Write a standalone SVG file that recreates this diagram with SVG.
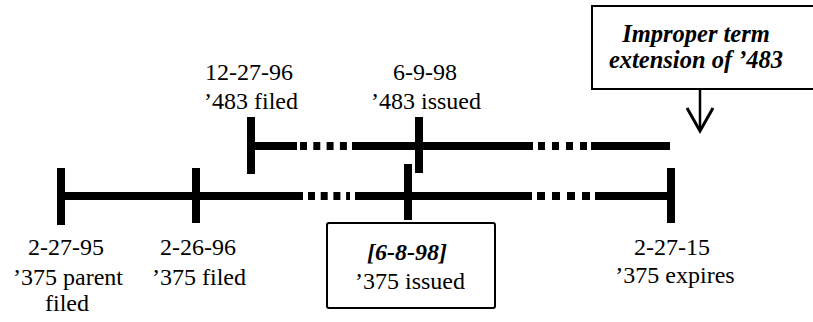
<svg xmlns="http://www.w3.org/2000/svg" width="813" height="322" viewBox="0 0 813 322">
<style>
.bar{stroke:#000;stroke-width:8;fill:none}
.dash{stroke:#000;stroke-width:8;fill:none;stroke-dasharray:7 6.3}
.tick{stroke:#000;stroke-width:8}
.box{fill:#fff;stroke:#000;stroke-width:2}
text{font-family:"Liberation Serif","Times New Roman",serif;font-size:24px;fill:#000;text-anchor:middle}
.bi{font-weight:bold;font-style:italic}
</style>
<g id="connectors">
  <line class="bar" x1="251" y1="146" x2="297" y2="146"/>
  <line class="dash" x1="300" y1="146" x2="347" y2="146"/>
  <line class="bar" x1="352" y1="146" x2="533" y2="146"/>
  <line class="dash" x1="538" y1="146" x2="587" y2="146" style="stroke-dasharray:7 7"/>
  <line class="bar" x1="591" y1="146" x2="670" y2="146"/>
  <line class="tick" x1="251" y1="117" x2="251" y2="174"/>
  <line class="tick" x1="419" y1="117" x2="419" y2="173"/>
  <line class="bar" x1="61" y1="196" x2="303" y2="196"/>
  <line class="dash" x1="308" y1="196" x2="350" y2="196" style="stroke-dasharray:7 5.7"/>
  <line class="bar" x1="355" y1="196" x2="532" y2="196"/>
  <line class="dash" x1="537" y1="196" x2="590" y2="196" style="stroke-dasharray:8 7"/>
  <line class="bar" x1="595" y1="196" x2="671" y2="196"/>
  <line class="tick" x1="61" y1="168" x2="61" y2="225"/>
  <line class="tick" x1="196" y1="168" x2="196" y2="223"/>
  <line class="tick" x1="408" y1="164" x2="408" y2="220"/>
  <line class="tick" x1="671" y1="168" x2="671" y2="223"/>
  <line x1="700" y1="89" x2="700" y2="131" stroke="#000" stroke-width="2.5"/>
  <polyline points="687,108 700,131 713,108" fill="none" stroke="#000" stroke-width="3"/>
</g>
<g id="n483filed">
  <text x="249" y="80">12-27-96</text>
  <text x="251" y="109">’483 filed</text>
</g>
<g id="n483issued">
  <text x="425" y="80">6-9-98</text>
  <text x="426" y="109">’483 issued</text>
</g>
<g id="n375parent">
  <text x="66" y="255">2-27-95</text>
  <text x="68" y="285">’375 parent</text>
  <text x="67" y="311">filed</text>
</g>
<g id="n375filed">
  <text x="198" y="255">2-26-96</text>
  <text x="199" y="285">’375 filed</text>
</g>
<g id="n375issued">
  <rect class="box" x="327" y="223" width="168" height="85" rx="2"/>
  <text class="bi" x="407" y="260">[6-8-98]</text>
  <text x="410" y="289">’375 issued</text>
</g>
<g id="n375expires">
  <text x="672" y="255">2-27-15</text>
  <text x="675" y="283">’375 expires</text>
</g>
<g id="improper">
  <rect class="box" x="592" y="6" width="225" height="83"/>
  <text class="bi" x="696" y="42" style="font-size:24.5px">Improper term</text>
  <text class="bi" x="696" y="68" style="font-size:24.5px">extension of ’483</text>
</g>
</svg>
